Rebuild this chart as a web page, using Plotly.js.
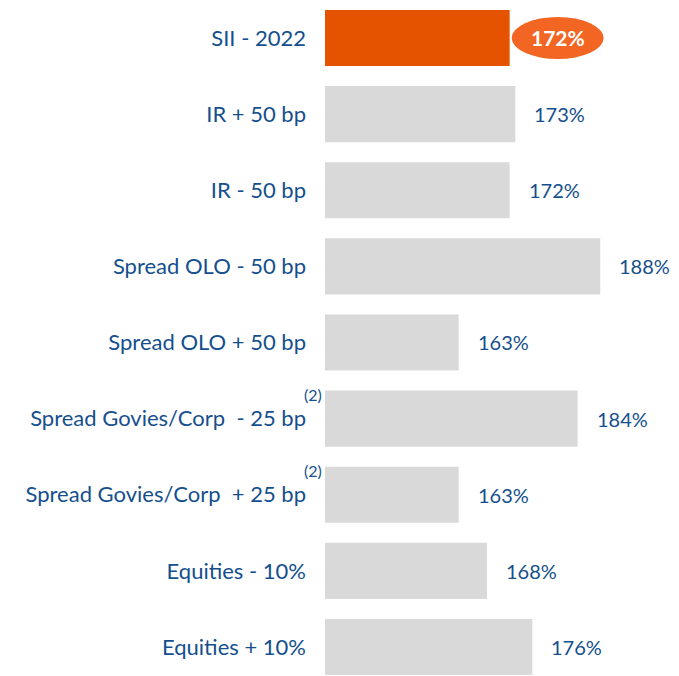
<!DOCTYPE html>
<html><head><meta charset="utf-8">
<script src="https://cdn.plot.ly/plotly-3.0.1.min.js"></script>
<style>html,body{margin:0;padding:0;background:#fff;}</style>
</head><body>
<div id="chart" style="width:679px;height:676px;"></div>
<script>
const categories = ["SII - 2022","IR + 50 bp","IR - 50 bp","Spread OLO - 50 bp","Spread OLO + 50 bp","Spread Govies/Corp  - 25 bp","Spread Govies/Corp  + 25 bp","Equities - 10%","Equities + 10%"];
const values = [172,173,172,188,163,184,163,168,176];
const valueLabels = ["172%","173%","172%","188%","163%","184%","163%","168%","176%"];
const footnoteRows = [5,6];
const footnoteText = "(2)";

const blue = "#154F8D";
const colors = values.map((v,i)=> i===0 ? "#E55300" : "#D9D9D9");
const font = "Lato, 'Open Sans', sans-serif";

const annotations = [];
values.forEach((v,i)=>{
  if(i===0){
    annotations.push({x:v, y:i, xref:'x', yref:'y', text:'<b>'+valueLabels[i]+'</b>', showarrow:false,
      xanchor:'center', xshift:48, font:{family:font, size:21, color:'#FFFFFF'}});
  } else {
    annotations.push({x:v, y:i, xref:'x', yref:'y', text:valueLabels[i], showarrow:false,
      xanchor:'left', xshift:17, font:{family:font, size:20, color:blue}});
  }
});
footnoteRows.forEach(r=>{
  annotations.push({x:0, y:r, xref:'paper', yref:'y', text:footnoteText, showarrow:false,
    xanchor:'right', xshift:-1, yshift:24, font:{family:font, size:16, color:blue}});
});

const shapes = [{type:'circle', xref:'x', yref:'y', xsizemode:'pixel', ysizemode:'pixel',
  xanchor:values[0], yanchor:0, x0:2, x1:94, y0:-21, y1:21,
  fillcolor:'#F26522', line:{width:0}, layer:'above'}];

Plotly.newPlot('chart', [{
  type:'bar', orientation:'h', x:values, y:categories.map((c,i)=>i),
  marker:{color:colors}, hoverinfo:'none', cliponaxis:true
}], {
  width:679, height:676,
  margin:{l:325, r:0, t:0, b:0, pad:0},
  paper_bgcolor:'#fff', plot_bgcolor:'#fff',
  bargap:0.264,
  showlegend:false,
  xaxis:{range:[139.4,201.9], showgrid:false, zeroline:false, showticklabels:false, showline:false, fixedrange:true},
  yaxis:{range:[8.381,-0.499], tickmode:'array', tickvals:categories.map((c,i)=>i), ticktext:categories,
    showgrid:false, zeroline:false, showline:false, ticks:'', ticklabelstandoff:18,
    tickfont:{family:font, size:22, color:blue}},
  annotations:annotations,
  shapes:shapes
}, {staticPlot:true});
</script>
</body></html>
